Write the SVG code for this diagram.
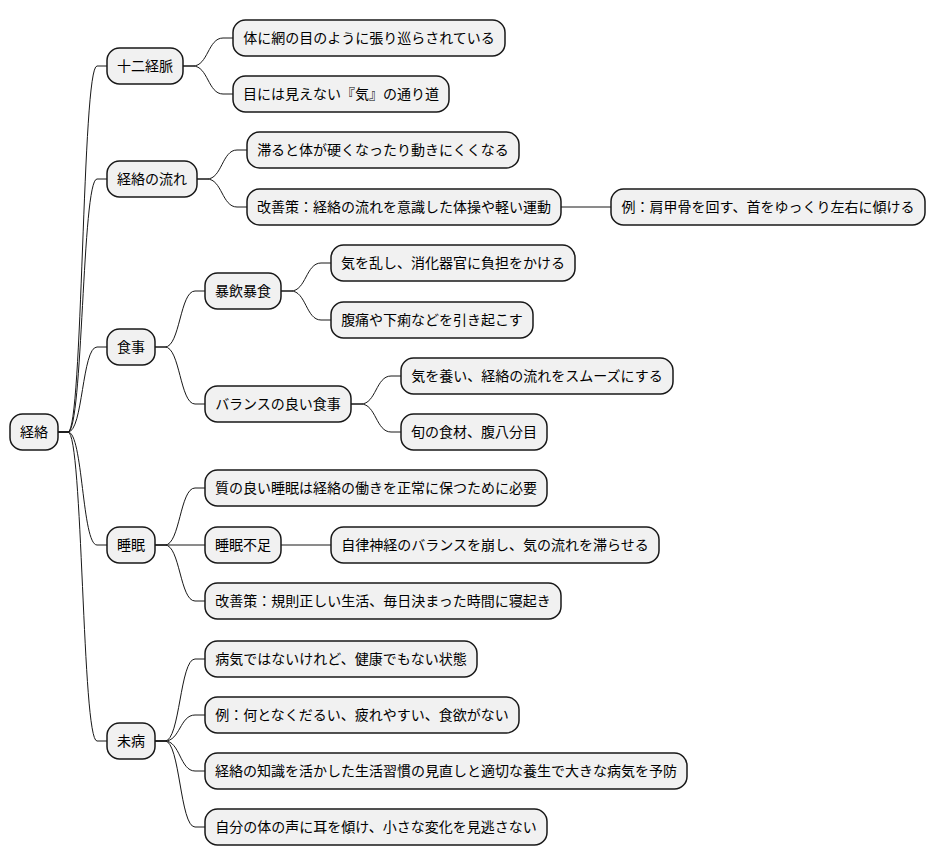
<svg xmlns="http://www.w3.org/2000/svg" width="936" height="865" viewBox="0 0 936 865">
<style>
.n rect{fill:#F1F1F1;stroke:#181818;stroke-width:1.5}
.n text{font-family:"Noto Sans CJK JP","Noto Sans",sans-serif;font-size:14px;fill:#000;text-anchor:middle}
.e path{fill:none;stroke:#181818;stroke-width:1}
</style>
<rect width="936" height="865" fill="#FFFFFF"/>
<g id="connectors" class="e">
<path d="M58 432 L68 432 C83 432 82 66 97 66 L107 66"/>
<path d="M58 432 L68 432 C83 432 82 179 97 179 L107 179"/>
<path d="M58 432 L68 432 C83 432 82 347 97 347 L107 347"/>
<path d="M58 432 L68 432 C83 432 82 545 97 545 L107 545"/>
<path d="M58 432 L68 432 C83 432 82 741 97 741 L107 741"/>
<path d="M183 66 L193 66 C208 66 208 38 223 38 L233 38"/>
<path d="M183 66 L193 66 C208 66 208 94 223 94 L233 94"/>
<path d="M197 179 L207 179 C222 179 222 150 237 150 L247 150"/>
<path d="M197 179 L207 179 C222 179 222 207 237 207 L247 207"/>
<path d="M561 207 L611 207"/>
<path d="M155 347 L165 347 C180 347 180 291 195 291 L205 291"/>
<path d="M155 347 L165 347 C180 347 180 404 195 404 L205 404"/>
<path d="M281 291 L291 291 C306 291 306 263 321 263 L331 263"/>
<path d="M281 291 L291 291 C306 291 306 320 321 320 L331 320"/>
<path d="M351 404 L361 404 C376 404 376 376 391 376 L401 376"/>
<path d="M351 404 L361 404 C376 404 376 432 391 432 L401 432"/>
<path d="M155 545 L165 545 C180 545 180 488 195 488 L205 488"/>
<path d="M155 545 L205 545"/>
<path d="M155 545 L165 545 C180 545 180 601 195 601 L205 601"/>
<path d="M281 545 L331 545"/>
<path d="M155 741 L165 741 C180 741 180 659 195 659 L205 659"/>
<path d="M155 741 L165 741 C180 741 180 715 195 715 L205 715"/>
<path d="M155 741 L165 741 C180 741 180 771 195 771 L205 771"/>
<path d="M155 741 L165 741 C180 741 180 827 195 827 L205 827"/>
</g>
<g id="n_root" class="n"><rect x="10" y="414" width="48" height="36" rx="12.5"/><text x="34" y="437">経絡</text></g>
<g id="n_juni" class="n"><rect x="107" y="48" width="76" height="36" rx="12.5"/><text x="145" y="71">十二経脈</text></g>
<g id="n_juni1" class="n"><rect x="233" y="20" width="272" height="36" rx="12.5"/><text x="369" y="43">体に網の目のように張り巡らされている</text></g>
<g id="n_juni2" class="n"><rect x="233" y="76" width="216" height="36" rx="12.5"/><text x="341" y="99">目には見えない『気』の通り道</text></g>
<g id="n_flow" class="n"><rect x="107" y="161" width="90" height="36" rx="12.5"/><text x="152" y="184">経絡の流れ</text></g>
<g id="n_flow1" class="n"><rect x="247" y="132" width="272" height="36" rx="12.5"/><text x="383" y="155">滞ると体が硬くなったり動きにくくなる</text></g>
<g id="n_flow2" class="n"><rect x="247" y="189" width="314" height="36" rx="12.5"/><text x="404" y="212">改善策：経絡の流れを意識した体操や軽い運動</text></g>
<g id="n_flow2a" class="n"><rect x="611" y="189" width="314" height="36" rx="12.5"/><text x="768" y="212">例：肩甲骨を回す、首をゆっくり左右に傾ける</text></g>
<g id="n_meal" class="n"><rect x="107" y="329" width="48" height="36" rx="12.5"/><text x="131" y="352">食事</text></g>
<g id="n_meal1" class="n"><rect x="205" y="273" width="76" height="36" rx="12.5"/><text x="243" y="296">暴飲暴食</text></g>
<g id="n_meal1a" class="n"><rect x="331" y="245" width="244" height="36" rx="12.5"/><text x="453" y="268">気を乱し、消化器官に負担をかける</text></g>
<g id="n_meal1b" class="n"><rect x="331" y="302" width="202" height="36" rx="12.5"/><text x="432" y="325">腹痛や下痢などを引き起こす</text></g>
<g id="n_meal2" class="n"><rect x="205" y="386" width="146" height="36" rx="12.5"/><text x="278" y="409">バランスの良い食事</text></g>
<g id="n_meal2a" class="n"><rect x="401" y="358" width="272" height="36" rx="12.5"/><text x="537" y="381">気を養い、経絡の流れをスムーズにする</text></g>
<g id="n_meal2b" class="n"><rect x="401" y="414" width="146" height="36" rx="12.5"/><text x="474" y="437">旬の食材、腹八分目</text></g>
<g id="n_sleep" class="n"><rect x="107" y="527" width="48" height="36" rx="12.5"/><text x="131" y="550">睡眠</text></g>
<g id="n_sleep1" class="n"><rect x="205" y="470" width="342" height="36" rx="12.5"/><text x="376" y="493">質の良い睡眠は経絡の働きを正常に保つために必要</text></g>
<g id="n_sleep2" class="n"><rect x="205" y="527" width="76" height="36" rx="12.5"/><text x="243" y="550">睡眠不足</text></g>
<g id="n_sleep2a" class="n"><rect x="331" y="527" width="328" height="36" rx="12.5"/><text x="495" y="550">自律神経のバランスを崩し、気の流れを滞らせる</text></g>
<g id="n_sleep3" class="n"><rect x="205" y="583" width="356" height="36" rx="12.5"/><text x="383" y="606">改善策：規則正しい生活、毎日決まった時間に寝起き</text></g>
<g id="n_mibyo" class="n"><rect x="107" y="723" width="48" height="36" rx="12.5"/><text x="131" y="746">未病</text></g>
<g id="n_mibyo1" class="n"><rect x="205" y="641" width="272" height="36" rx="12.5"/><text x="341" y="664">病気ではないけれど、健康でもない状態</text></g>
<g id="n_mibyo2" class="n"><rect x="205" y="697" width="314" height="36" rx="12.5"/><text x="362" y="720">例：何となくだるい、疲れやすい、食欲がない</text></g>
<g id="n_mibyo3" class="n"><rect x="205" y="753" width="482" height="36" rx="12.5"/><text x="446" y="776">経絡の知識を活かした生活習慣の見直しと適切な養生で大きな病気を予防</text></g>
<g id="n_mibyo4" class="n"><rect x="205" y="809" width="342" height="36" rx="12.5"/><text x="376" y="832">自分の体の声に耳を傾け、小さな変化を見逃さない</text></g>
</svg>
